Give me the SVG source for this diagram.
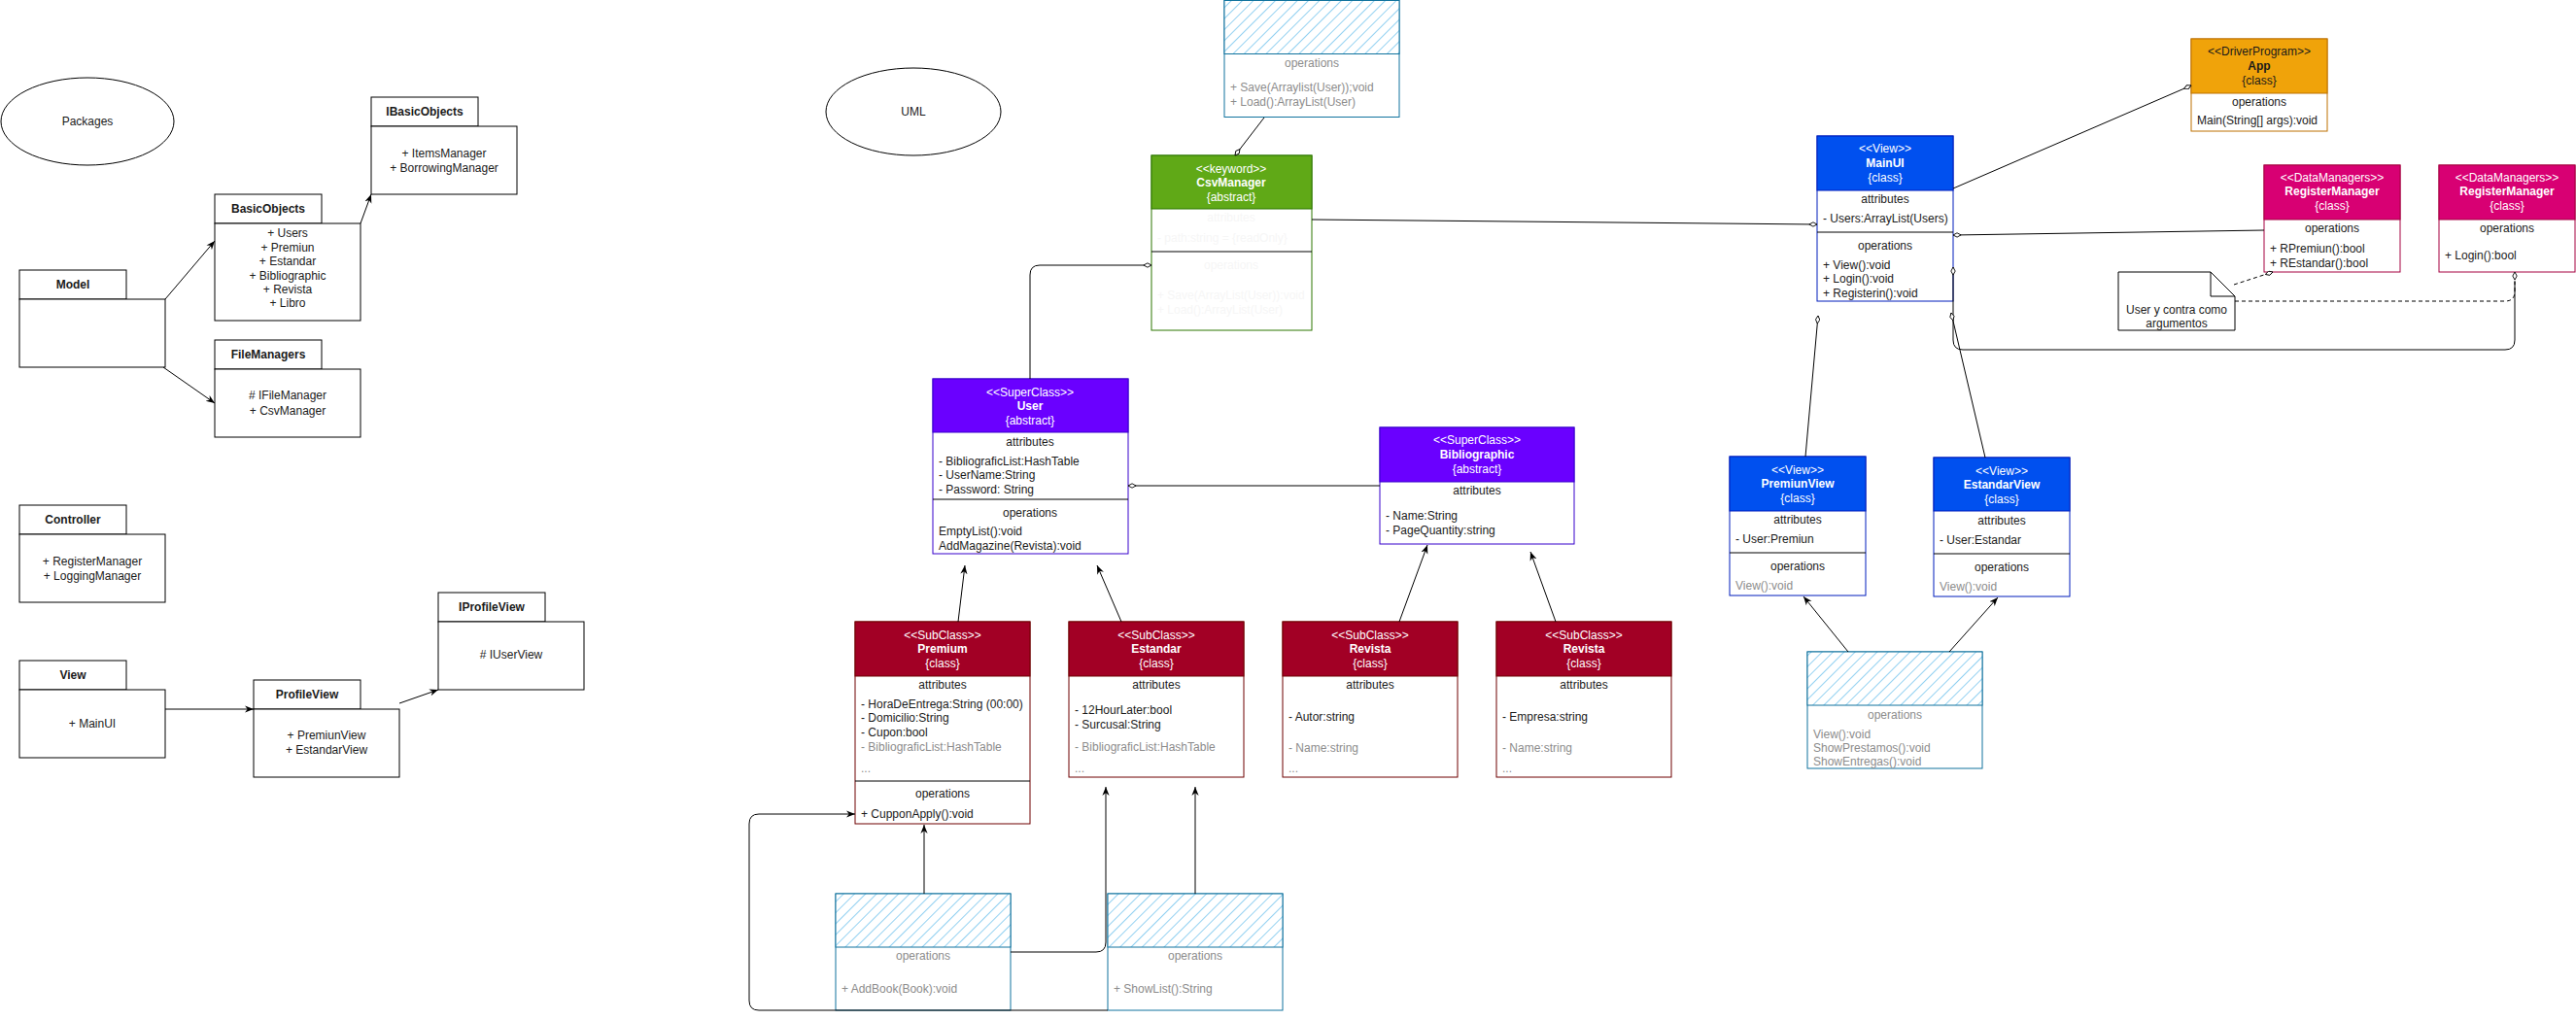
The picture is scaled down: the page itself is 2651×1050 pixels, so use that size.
<svg xmlns="http://www.w3.org/2000/svg" width="2651" height="1050" viewBox="0 0 2651 1050">
<defs>
<style>
text{font-family:"Liberation Sans",Arial,Helvetica,sans-serif;font-size:12px;fill:#1a1a1a}
.c{text-anchor:middle}
.b{font-weight:bold}
.w{fill:#ffffff}
.g{fill:#8c8c8c}
.f{fill:#f6f6f6}
.pk{fill:#ffffff;stroke:#000000;stroke-width:1}
.box{fill:#ffffff}
.div{stroke:#000000;stroke-width:1}
.con{fill:none;stroke:#000000;stroke-width:1}
.dash{stroke-dasharray:4 3}
.ar{marker-end:url(#arrow)}
.de{marker-end:url(#dia)}
.ds{marker-start:url(#dia)}
</style>
<marker id="arrow" viewBox="0 0 10 10" refX="10" refY="5" markerWidth="9" markerHeight="9" markerUnits="userSpaceOnUse" orient="auto">
<path d="M0,1 L10,5 L0,9 L3,5 z" fill="#000000"/>
</marker>
<marker id="dia" viewBox="0 0 10 6" refX="9.5" refY="3" markerWidth="9" markerHeight="5.4" markerUnits="userSpaceOnUse" orient="auto-start-reverse">
<path d="M0.5,3 L5,0.6 L9.5,3 L5,5.4 z" fill="#ffffff" stroke="#000000" stroke-width="1"/>
</marker>
<pattern id="hatch" patternUnits="userSpaceOnUse" width="8" height="8" patternTransform="rotate(45)">
<rect width="8" height="8" fill="#ffffff"/>
<line x1="0" y1="0" x2="0" y2="8" stroke="#58b8ea" stroke-width="1.3"/>
</pattern>
</defs>
<rect width="2651" height="1050" fill="#ffffff"/>

<!-- Packages section -->
<g id="packages-label">
<ellipse cx="90" cy="125" rx="89" ry="45" fill="#ffffff" stroke="#000000"/>
<text x="90" y="129" class="c">Packages</text>
</g>
<g id="pkg-ibasicobjects">
<rect x="382" y="100" width="110" height="30" class="pk"/>
<rect x="382" y="130" width="150" height="70" class="pk"/>
<text x="437" y="119" class="c b">IBasicObjects</text>
<text x="457" y="162" class="c">+  ItemsManager</text>
<text x="457" y="177" class="c">+ BorrowingManager</text>
</g>
<g id="pkg-basicobjects">
<rect x="221" y="200" width="110" height="30" class="pk"/>
<rect x="221" y="230" width="150" height="100" class="pk"/>
<text x="276" y="219" class="c b">BasicObjects</text>
<text x="296" y="244" class="c">+ Users</text>
<text x="296" y="259" class="c">+ Premiun</text>
<text x="296" y="273" class="c">+ Estandar</text>
<text x="296" y="288" class="c">+ Bibliographic</text>
<text x="296" y="302" class="c">+ Revista</text>
<text x="296" y="316" class="c">+ Libro</text>
</g>
<g id="pkg-model">
<rect x="20" y="278" width="110" height="30" class="pk"/>
<rect x="20" y="308" width="150" height="70" class="pk"/>
<text x="75" y="297" class="c b">Model</text>
</g>
<g id="pkg-filemanagers">
<rect x="221" y="350" width="110" height="30" class="pk"/>
<rect x="221" y="380" width="150" height="70" class="pk"/>
<text x="276" y="369" class="c b">FileManagers</text>
<text x="296" y="411" class="c"># IFileManager</text>
<text x="296" y="427" class="c">+ CsvManager</text>
</g>
<g id="pkg-controller">
<rect x="20" y="520" width="110" height="30" class="pk"/>
<rect x="20" y="550" width="150" height="70" class="pk"/>
<text x="75" y="539" class="c b">Controller</text>
<text x="95" y="582" class="c">+ RegisterManager</text>
<text x="95" y="597" class="c">+ LoggingManager</text>
</g>
<g id="pkg-view">
<rect x="20" y="680" width="110" height="30" class="pk"/>
<rect x="20" y="710" width="150" height="70" class="pk"/>
<text x="75" y="699" class="c b">View</text>
<text x="95" y="749" class="c">+ MainUI</text>
</g>
<g id="pkg-profileview">
<rect x="261" y="700" width="110" height="30" class="pk"/>
<rect x="261" y="730" width="150" height="70" class="pk"/>
<text x="316" y="719" class="c b">ProfileView</text>
<text x="336" y="761" class="c">+ PremiunView</text>
<text x="336" y="776" class="c">+ EstandarView</text>
</g>
<g id="pkg-iprofileview">
<rect x="451" y="610" width="110" height="30" class="pk"/>
<rect x="451" y="640" width="150" height="70" class="pk"/>
<text x="506" y="629" class="c b">IProfileView</text>
<text x="526" y="678" class="c"># IUserView</text>
</g>

<!-- UML section -->
<g id="uml-label">
<ellipse cx="940" cy="115" rx="90" ry="45" fill="#ffffff" stroke="#000000"/>
<text x="940" y="119" class="c">UML</text>
</g>

<g id="ifilemanager">
<rect x="1260" y="0.5" width="180" height="120" fill="#ffffff" stroke="#10739e"/>
<rect x="1260" y="0.5" width="180" height="55" fill="url(#hatch)" stroke="#10739e"/>
<text x="1350" y="69" class="c g">operations</text>
<text x="1266" y="94" class="g">+ Save(Arraylist(User));void</text>
<text x="1266" y="109" class="g">+ Load():ArrayList(User)</text>
</g>

<g id="csvmanager">
<rect x="1185" y="160" width="165" height="180" class="box" stroke="#2d7600"/>
<rect x="1185" y="160" width="165" height="55" fill="#60a917" stroke="#2d7600"/>
<line x1="1185" y1="259" x2="1350" y2="259" class="div"/>
<text x="1267" y="178" class="c w">&lt;&lt;keyword&gt;&gt;</text>
<text x="1267" y="192" class="c w b">CsvManager</text>
<text x="1267" y="207" class="c w">{abstract}</text>
<text x="1267" y="228" class="c f">attributes</text>
<text x="1191" y="249" class="f">- path:string = {readOnly}</text>
<text x="1267" y="277" class="c f">operations</text>
<text x="1191" y="308" class="f">+ Save(ArrayList(User)):void</text>
<text x="1191" y="323" class="f">+ Load():ArrayList(User)</text>
</g>

<g id="user">
<rect x="960" y="390" width="201" height="180" class="box" stroke="#3700cc"/>
<rect x="960" y="390" width="201" height="55" fill="#6a00ff" stroke="#3700cc"/>
<line x1="960" y1="514" x2="1161" y2="514" class="div"/>
<text x="1060" y="408" class="c w">&lt;&lt;SuperClass&gt;&gt;</text>
<text x="1060" y="422" class="c w b">User</text>
<text x="1060" y="437" class="c w">{abstract}</text>
<text x="1060" y="459" class="c">attributes</text>
<text x="966" y="479">- BibliograficList:HashTable</text>
<text x="966" y="493">- UserName:String</text>
<text x="966" y="508">- Password: String</text>
<text x="1060" y="532" class="c">operations</text>
<text x="966" y="551">EmptyList():void</text>
<text x="966" y="566">AddMagazine(Revista):void</text>
</g>

<g id="bibliographic">
<rect x="1420" y="440" width="200" height="120" class="box" stroke="#3700cc"/>
<rect x="1420" y="440" width="200" height="56" fill="#6a00ff" stroke="#3700cc"/>
<text x="1520" y="457" class="c w">&lt;&lt;SuperClass&gt;&gt;</text>
<text x="1520" y="472" class="c w b">Bibliographic</text>
<text x="1520" y="487" class="c w">{abstract}</text>
<text x="1520" y="509" class="c">attributes</text>
<text x="1426" y="535">- Name:String</text>
<text x="1426" y="550">- PageQuantity:string</text>
</g>

<g id="premium">
<rect x="880" y="640" width="180" height="208" class="box" stroke="#6f0000"/>
<rect x="880" y="640" width="180" height="56" fill="#a20025" stroke="#6f0000"/>
<line x1="880" y1="804" x2="1060" y2="804" class="div"/>
<text x="970" y="658" class="c w">&lt;&lt;SubClass&gt;&gt;</text>
<text x="970" y="672" class="c w b">Premium</text>
<text x="970" y="687" class="c w">{class}</text>
<text x="970" y="709" class="c">attributes</text>
<text x="886" y="729">- HoraDeEntrega:String (00:00)</text>
<text x="886" y="743">- Domicilio:String</text>
<text x="886" y="758">- Cupon:bool</text>
<text x="886" y="773" class="g">- BibliograficList:HashTable</text>
<text x="886" y="795" class="g">...</text>
<text x="970" y="821" class="c">operations</text>
<text x="886" y="842">+ CupponApply():void</text>
</g>

<g id="estandar">
<rect x="1100" y="640" width="180" height="160" class="box" stroke="#6f0000"/>
<rect x="1100" y="640" width="180" height="56" fill="#a20025" stroke="#6f0000"/>
<text x="1190" y="658" class="c w">&lt;&lt;SubClass&gt;&gt;</text>
<text x="1190" y="672" class="c w b">Estandar</text>
<text x="1190" y="687" class="c w">{class}</text>
<text x="1190" y="709" class="c">attributes</text>
<text x="1106" y="735">- 12HourLater:bool</text>
<text x="1106" y="750">- Surcusal:String</text>
<text x="1106" y="773" class="g">- BibliograficList:HashTable</text>
<text x="1106" y="795" class="g">...</text>
</g>

<g id="revista1">
<rect x="1320" y="640" width="180" height="160" class="box" stroke="#6f0000"/>
<rect x="1320" y="640" width="180" height="56" fill="#a20025" stroke="#6f0000"/>
<text x="1410" y="658" class="c w">&lt;&lt;SubClass&gt;&gt;</text>
<text x="1410" y="672" class="c w b">Revista</text>
<text x="1410" y="687" class="c w">{class}</text>
<text x="1410" y="709" class="c">attributes</text>
<text x="1326" y="742">- Autor:string</text>
<text x="1326" y="774" class="g">- Name:string</text>
<text x="1326" y="795" class="g">...</text>
</g>

<g id="revista2">
<rect x="1540" y="640" width="180" height="160" class="box" stroke="#6f0000"/>
<rect x="1540" y="640" width="180" height="56" fill="#a20025" stroke="#6f0000"/>
<text x="1630" y="658" class="c w">&lt;&lt;SubClass&gt;&gt;</text>
<text x="1630" y="672" class="c w b">Revista</text>
<text x="1630" y="687" class="c w">{class}</text>
<text x="1630" y="709" class="c">attributes</text>
<text x="1546" y="742">- Empresa:string</text>
<text x="1546" y="774" class="g">- Name:string</text>
<text x="1546" y="795" class="g">...</text>
</g>

<g id="addbook-iface">
<rect x="860" y="920" width="180" height="120" fill="#ffffff" stroke="#10739e"/>
<rect x="860" y="920" width="180" height="55" fill="url(#hatch)" stroke="#10739e"/>
<text x="950" y="988" class="c g">operations</text>
<text x="866" y="1022" class="g">+ AddBook(Book):void</text>
</g>

<g id="showlist-iface">
<rect x="1140" y="920" width="180" height="120" fill="#ffffff" stroke="#10739e"/>
<rect x="1140" y="920" width="180" height="55" fill="url(#hatch)" stroke="#10739e"/>
<text x="1230" y="988" class="c g">operations</text>
<text x="1146" y="1022" class="g">+ ShowList():String</text>
</g>

<g id="mainui">
<rect x="1870" y="140" width="140" height="170" class="box" stroke="#001dbc"/>
<rect x="1870" y="140" width="140" height="56" fill="#0050ef" stroke="#001dbc"/>
<line x1="1870" y1="239" x2="2010" y2="239" class="div"/>
<text x="1940" y="157" class="c w">&lt;&lt;View&gt;&gt;</text>
<text x="1940" y="172" class="c w b">MainUI</text>
<text x="1940" y="187" class="c w">{class}</text>
<text x="1940" y="209" class="c">attributes</text>
<text x="1876" y="229">- Users:ArrayList(Users)</text>
<text x="1940" y="257" class="c">operations</text>
<text x="1876" y="277">+ View():void</text>
<text x="1876" y="291">+ Login():void</text>
<text x="1876" y="306">+ Registerin():void</text>
</g>

<g id="app">
<rect x="2255" y="40" width="140" height="95" class="box" stroke="#bd7000"/>
<rect x="2255" y="40" width="140" height="56" fill="#f0a30a" stroke="#bd7000"/>
<text x="2325" y="57" class="c">&lt;&lt;DriverProgram&gt;&gt;</text>
<text x="2325" y="72" class="c b">App</text>
<text x="2325" y="87" class="c">{class}</text>
<text x="2325" y="109" class="c">operations</text>
<text x="2261" y="128">Main(String[] args):void</text>
</g>

<g id="registermanager1">
<rect x="2330" y="170" width="140" height="110" class="box" stroke="#a50040"/>
<rect x="2330" y="170" width="140" height="56" fill="#d80073" stroke="#a50040"/>
<text x="2400" y="187" class="c w">&lt;&lt;DataManagers&gt;&gt;</text>
<text x="2400" y="201" class="c w b">RegisterManager</text>
<text x="2400" y="216" class="c w">{class}</text>
<text x="2400" y="239" class="c">operations</text>
<text x="2336" y="260">+ RPremiun():bool</text>
<text x="2336" y="275">+ REstandar():bool</text>
</g>

<g id="registermanager2">
<rect x="2510" y="170" width="140" height="110" class="box" stroke="#a50040"/>
<rect x="2510" y="170" width="140" height="56" fill="#d80073" stroke="#a50040"/>
<text x="2580" y="187" class="c w">&lt;&lt;DataManagers&gt;&gt;</text>
<text x="2580" y="201" class="c w b">RegisterManager</text>
<text x="2580" y="216" class="c w">{class}</text>
<text x="2580" y="239" class="c">operations</text>
<text x="2516" y="267">+ Login():bool</text>
</g>

<g id="note">
<path d="M2180,280 L2275,280 L2300,305 L2300,340 L2180,340 Z" fill="#ffffff" stroke="#000000"/>
<path d="M2275,280 L2275,305 L2300,305" fill="none" stroke="#000000"/>
<text x="2240" y="323" class="c">User y contra como</text>
<text x="2240" y="337" class="c">argumentos</text>
</g>

<g id="premiunview">
<rect x="1780" y="470" width="140" height="143" class="box" stroke="#001dbc"/>
<rect x="1780" y="470" width="140" height="56" fill="#0050ef" stroke="#001dbc"/>
<line x1="1780" y1="569" x2="1920" y2="569" class="div"/>
<text x="1850" y="488" class="c w">&lt;&lt;View&gt;&gt;</text>
<text x="1850" y="502" class="c w b">PremiunView</text>
<text x="1850" y="517" class="c w">{class}</text>
<text x="1850" y="539" class="c">attributes</text>
<text x="1786" y="559">- User:Premiun</text>
<text x="1850" y="587" class="c">operations</text>
<text x="1786" y="607" class="g">View():void</text>
</g>

<g id="estandarview">
<rect x="1990" y="471" width="140" height="143" class="box" stroke="#001dbc"/>
<rect x="1990" y="471" width="140" height="55" fill="#0050ef" stroke="#001dbc"/>
<line x1="1990" y1="570" x2="2130" y2="570" class="div"/>
<text x="2060" y="489" class="c w">&lt;&lt;View&gt;&gt;</text>
<text x="2060" y="503" class="c w b">EstandarView</text>
<text x="2060" y="518" class="c w">{class}</text>
<text x="2060" y="540" class="c">attributes</text>
<text x="1996" y="560">- User:Estandar</text>
<text x="2060" y="588" class="c">operations</text>
<text x="1996" y="608" class="g">View():void</text>
</g>

<g id="iuserview">
<rect x="1860" y="671" width="180" height="120" fill="#ffffff" stroke="#10739e"/>
<rect x="1860" y="671" width="180" height="55" fill="url(#hatch)" stroke="#10739e"/>
<text x="1950" y="740" class="c g">operations</text>
<text x="1866" y="760" class="g">View():void</text>
<text x="1866" y="774" class="g">ShowPrestamos():void</text>
<text x="1866" y="788" class="g">ShowEntregas():void</text>
</g>

<g id="connectors">
<path d="M170,308 L221,248" class="con ar"/>
<path d="M168,378 L221,415" class="con ar"/>
<path d="M371,230 L382,200" class="con ar"/>
<path d="M170,730 L261,730" class="con ar"/>
<path d="M411,724 L451,710" class="con ar"/>

<path d="M1301,121 L1271,160" class="con de"/>
<path d="M1060,390 L1060,283 Q1060,273 1070,273 L1185,273" class="con de"/>
<path d="M1350,226 L1870,231" class="con de"/>
<path d="M1420,500 L1161,500" class="con de"/>
<path d="M986,640 L993,582" class="con ar"/>
<path d="M1154,640 L1129,582" class="con ar"/>
<path d="M1440,640 L1469,561" class="con ar"/>
<path d="M1601,640 L1575,568" class="con ar"/>
<path d="M951,920 L951,849" class="con ar"/>
<path d="M1040,980 L1128,980 Q1138,980 1138,970 L1138,810" class="con ar"/>
<path d="M1230,920 L1230,810" class="con ar"/>
<path d="M1140,1040 L781,1040 Q771,1040 771,1030 L771,848 Q771,838 781,838 L880,838" class="con ar"/>

<path d="M2010,194 L2255,88" class="con de"/>
<path d="M2330,237 L2010,242" class="con de"/>
<path d="M2010,275 L2010,350 Q2010,360 2020,360 L2578,360 Q2588,360 2588,350 L2588,290" class="con ds"/>
<path d="M2299,293 L2339,280" class="con dash de"/>
<path d="M2300,310 L2578,310 Q2588,310 2588,300 L2588,280" class="con dash de"/>
<path d="M1858,470 L1871,325" class="con de"/>
<path d="M2043,471 L2008,322" class="con de"/>
<path d="M1902,671 L1856,614" class="con ar"/>
<path d="M2006,671 L2056,615" class="con ar"/>
</g>
</svg>
